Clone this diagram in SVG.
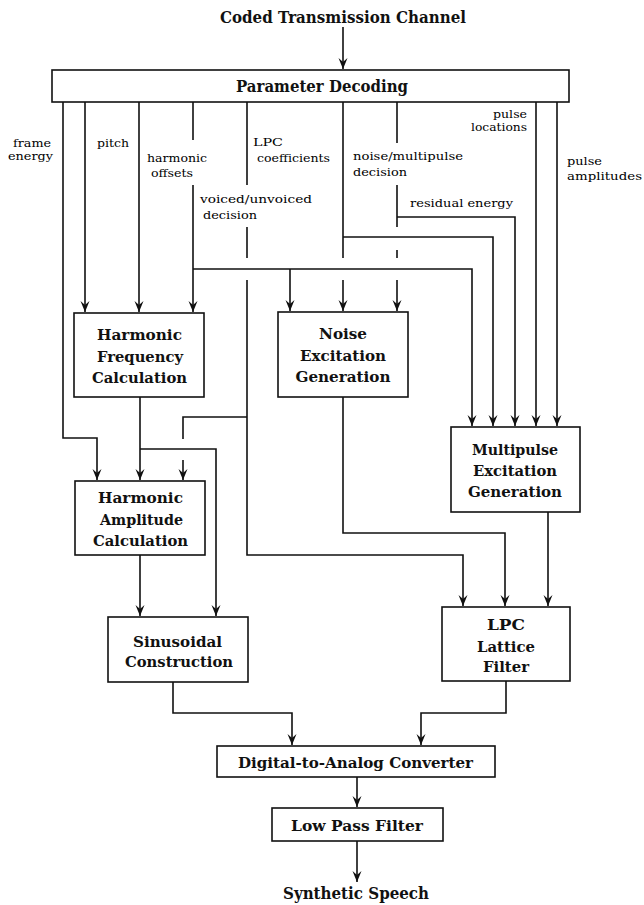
<svg xmlns="http://www.w3.org/2000/svg" width="644" height="905" viewBox="0 0 644 905">
<style>
.box{fill:#fff;stroke:#111;stroke-width:1.6}
.t{font-family:"DejaVu Serif","Liberation Serif",serif;font-weight:bold;font-size:15px;fill:#111;text-anchor:middle}
.h{font-family:"DejaVu Serif","Liberation Serif",serif;font-weight:bold;font-size:16px;fill:#111}
.s{font-family:"DejaVu Serif","Liberation Serif",serif;font-size:11.5px;fill:#000}
.c path{fill:none;stroke:#111;stroke-width:1.6}
</style>
<defs>
<marker id="ah" viewBox="-12 -5 13 10" refX="0" refY="0" markerWidth="13" markerHeight="10" markerUnits="userSpaceOnUse" orient="auto">
<path d="M0,0 L-11,-4.5 L-7,0 L-11,4.5 z" fill="#111"/>
</marker>
</defs>
<rect width="644" height="905" fill="#fff"/>

<g id="labels">
<text class="h" x="220" y="23" textLength="246" lengthAdjust="spacingAndGlyphs">Coded Transmission Channel</text>
<text class="s" x="13" y="147" textLength="38" lengthAdjust="spacingAndGlyphs">frame</text>
<text class="s" x="8" y="160" textLength="45" lengthAdjust="spacingAndGlyphs">energy</text>
<text class="s" x="97" y="147" textLength="32" lengthAdjust="spacingAndGlyphs">pitch</text>
<text class="s" x="147" y="162" textLength="60" lengthAdjust="spacingAndGlyphs">harmonic</text>
<text class="s" x="151" y="177" textLength="42" lengthAdjust="spacingAndGlyphs">offsets</text>
<text class="s" x="200" y="203" textLength="112" lengthAdjust="spacingAndGlyphs">voiced/unvoiced</text>
<text class="s" x="203" y="219" textLength="54" lengthAdjust="spacingAndGlyphs">decision</text>
<text class="s" x="253" y="146" textLength="30" lengthAdjust="spacingAndGlyphs">LPC</text>
<text class="s" x="257" y="162" textLength="73" lengthAdjust="spacingAndGlyphs">coefficients</text>
<text class="s" x="353" y="160" textLength="110" lengthAdjust="spacingAndGlyphs">noise/multipulse</text>
<text class="s" x="353" y="176" textLength="54" lengthAdjust="spacingAndGlyphs">decision</text>
<text class="s" x="410" y="207" textLength="103" lengthAdjust="spacingAndGlyphs">residual energy</text>
<text class="s" x="493" y="118" textLength="34" lengthAdjust="spacingAndGlyphs">pulse</text>
<text class="s" x="471" y="131" textLength="56" lengthAdjust="spacingAndGlyphs">locations</text>
<text class="s" x="567" y="165" textLength="35" lengthAdjust="spacingAndGlyphs">pulse</text>
<text class="s" x="567" y="180" textLength="75" lengthAdjust="spacingAndGlyphs">amplitudes</text>
<text class="h" x="283" y="899" textLength="146" lengthAdjust="spacingAndGlyphs">Synthetic Speech</text>
</g>

<g class="c" id="connectors">
<path d="M343,27 V69" marker-end="url(#ah)"/>
<path d="M63,102 V438 H97 V480" marker-end="url(#ah)"/>
<path d="M85,102 V312" marker-end="url(#ah)"/>
<path d="M139,102 V312" marker-end="url(#ah)"/>
<path d="M193,102 V140"/>
<path d="M193,185 V312" marker-end="url(#ah)"/>
<path d="M193,269 H472 V426" marker-end="url(#ah)"/>
<path d="M290,269 V311" marker-end="url(#ah)"/>
<path d="M247,102 V185 M247,227 V258"/>
<path d="M247,280 V555 H463 V606" marker-end="url(#ah)"/>
<path d="M247,417 H183 V439"/>
<path d="M183,460 V480" marker-end="url(#ah)"/>
<path d="M343,102 V258"/>
<path d="M343,280 V311" marker-end="url(#ah)"/>
<path d="M343,237 H493 V426" marker-end="url(#ah)"/>
<path d="M397,102 V143 M397,185 V227 M397,250 V258"/>
<path d="M397,280 V311" marker-end="url(#ah)"/>
<path d="M397,217 H515 V426" marker-end="url(#ah)"/>
<path d="M536,102 V426" marker-end="url(#ah)"/>
<path d="M557,102 V426" marker-end="url(#ah)"/>
<path d="M140,397 V480" marker-end="url(#ah)"/>
<path d="M140,449 H216 V616" marker-end="url(#ah)"/>
<path d="M140,555 V616" marker-end="url(#ah)"/>
<path d="M343,397 V533 H505 V606" marker-end="url(#ah)"/>
<path d="M548,512 V606" marker-end="url(#ah)"/>
<path d="M173,682 V713 H292 V745" marker-end="url(#ah)"/>
<path d="M506,681 V713 H421 V745" marker-end="url(#ah)"/>
<path d="M357,777 V807" marker-end="url(#ah)"/>
<path d="M357,841 V882" marker-end="url(#ah)"/>
</g>

<g id="param">
<rect class="box" x="52" y="70" width="517" height="32"/>
<text class="h" x="236" y="92" textLength="172" lengthAdjust="spacingAndGlyphs">Parameter Decoding</text>
</g>
<g id="hfc">
<rect class="box" x="74" y="313" width="130" height="84"/>
<text class="t" x="139.5" y="340" textLength="85" lengthAdjust="spacingAndGlyphs">Harmonic</text>
<text class="t" x="140" y="362" textLength="86" lengthAdjust="spacingAndGlyphs">Frequency</text>
<text class="t" x="139.5" y="383" textLength="95" lengthAdjust="spacingAndGlyphs">Calculation</text>
</g>
<g id="noise">
<rect class="box" x="278" y="312" width="130" height="85"/>
<text class="t" x="343" y="339" textLength="48" lengthAdjust="spacingAndGlyphs">Noise</text>
<text class="t" x="343" y="361" textLength="86" lengthAdjust="spacingAndGlyphs">Excitation</text>
<text class="t" x="343" y="382" textLength="95" lengthAdjust="spacingAndGlyphs">Generation</text>
</g>
<g id="multipulse">
<rect class="box" x="451" y="427" width="129" height="85"/>
<text class="t" x="515" y="455" textLength="86" lengthAdjust="spacingAndGlyphs">Multipulse</text>
<text class="t" x="515" y="476" textLength="84" lengthAdjust="spacingAndGlyphs">Excitation</text>
<text class="t" x="515" y="497" textLength="94" lengthAdjust="spacingAndGlyphs">Generation</text>
</g>
<g id="hac">
<rect class="box" x="75" y="481" width="130" height="74"/>
<text class="t" x="140.5" y="503" textLength="85" lengthAdjust="spacingAndGlyphs">Harmonic</text>
<text class="t" x="141.5" y="525" textLength="83" lengthAdjust="spacingAndGlyphs">Amplitude</text>
<text class="t" x="140.5" y="546" textLength="95" lengthAdjust="spacingAndGlyphs">Calculation</text>
</g>
<g id="sin">
<rect class="box" x="108" y="617" width="140" height="65"/>
<text class="t" x="177.5" y="647" textLength="89" lengthAdjust="spacingAndGlyphs">Sinusoidal</text>
<text class="t" x="179" y="667" textLength="108" lengthAdjust="spacingAndGlyphs">Construction</text>
</g>
<g id="lpc">
<rect class="box" x="442" y="607" width="128" height="74"/>
<text class="t" x="506" y="630" textLength="38" lengthAdjust="spacingAndGlyphs">LPC</text>
<text class="t" x="506" y="652" textLength="58" lengthAdjust="spacingAndGlyphs">Lattice</text>
<text class="t" x="506" y="672" textLength="46" lengthAdjust="spacingAndGlyphs">Filter</text>
</g>
<g id="dac">
<rect class="box" x="217" y="746" width="278" height="31"/>
<text class="t" x="355.5" y="768" textLength="235" lengthAdjust="spacingAndGlyphs">Digital-to-Analog Converter</text>
</g>
<g id="lpf">
<rect class="box" x="272" y="808" width="171" height="33"/>
<text class="t" x="357" y="831" textLength="132" lengthAdjust="spacingAndGlyphs">Low Pass Filter</text>
</g>
</svg>
